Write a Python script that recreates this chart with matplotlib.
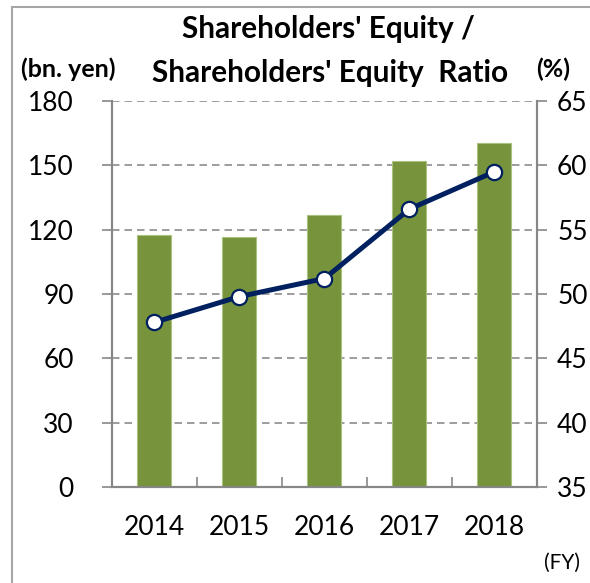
import matplotlib.pyplot as plt
from matplotlib.patches import Rectangle

plt.rcParams['font.family'] = ['Lato', 'DejaVu Sans']

years = ['2014', '2015', '2016', '2017', '2018']
equity = [117.5, 116.6, 126.7, 152.0, 160.5]  # bn. yen
equity_ratio = [47.8, 49.8, 51.2, 56.6, 59.5]  # %

bar_color = '#77933C'
line_color = '#002060'
axis_gray = '#878787'

fig = plt.figure(figsize=(5.9, 5.83), dpi=100)
ax = fig.add_axes([0.1898, 0.1647, 0.7203, 0.6621])
ax2 = ax.twinx()

x = list(range(len(years)))

# bars - shareholders' equity
ax.bar(x, equity, width=0.4, color=bar_color, edgecolor='#a9c27f', linewidth=0.8, zorder=2)
ax.set_xlim(-0.5, 4.5)
ax.set_ylim(0, 180)
ax.set_yticks([0, 30, 60, 90, 120, 150, 180])
ax.yaxis.grid(True, linestyle=(0, (4.5, 3)), color='#8c8c8c', linewidth=1.2)
ax.set_axisbelow(True)

# line - equity ratio
ax2.plot(x, equity_ratio, color=line_color, linewidth=3.6, marker='o', markersize=11,
         markerfacecolor='white', markeredgecolor=line_color, markeredgewidth=1.6, zorder=3)
ax2.set_ylim(35, 65)
ax2.set_yticks([35, 40, 45, 50, 55, 60, 65])

# x ticks at category boundaries, labels at centres
ax.set_xticks([i - 0.5 for i in range(len(years) + 1)])
ax.set_xticklabels([])
ax.set_xticks(x, minor=True)
ax.set_xticklabels(years, minor=True)
ax.tick_params(axis='x', which='major', direction='in', length=7, width=1.2, color=axis_gray)
ax.tick_params(axis='x', which='minor', length=0, pad=20, labelsize=19)

ax.tick_params(axis='y', direction='out', length=7.5, width=1.2, color=axis_gray, pad=20, labelsize=19)
ax2.tick_params(axis='y', direction='out', length=7.5, width=1.2, color=axis_gray, pad=7, labelsize=19)

for a in (ax, ax2):
    a.spines['top'].set_visible(False)
    for s in ('left', 'right', 'bottom'):
        a.spines[s].set_color(axis_gray)
        a.spines[s].set_linewidth(1.5)

# titles and unit labels
fig.text(0.556, 0.935, "Shareholders' Equity /", ha='center', va='baseline',
         fontsize=21.4, fontweight='bold')
fig.text(0.560, 0.859, "Shareholders' Equity  Ratio", ha='center', va='baseline',
         fontsize=21.4, fontweight='bold')
fig.text(0.036, 0.868, "(bn. yen)", ha='left', va='baseline', fontsize=18, fontweight='bold')
fig.text(0.908, 0.868, "(%)", ha='left', va='baseline', fontsize=18, fontweight='bold')
fig.text(0.922, 0.025, "(FY)", ha='left', va='baseline', fontsize=15)

# outer frame
fig.patches.append(Rectangle((12 / 590, -0.05), 1.2, 0.05 + (583 - 7) / 583,
                             transform=fig.transFigure, fill=False,
                             edgecolor='#a6a6a6', linewidth=1.5))

fig.savefig('out.png', dpi=100)
